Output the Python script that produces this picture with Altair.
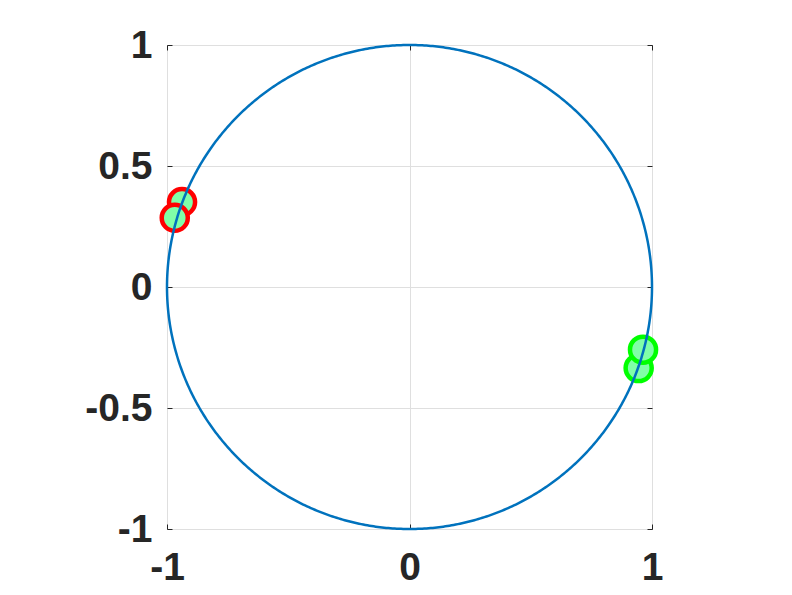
import altair as alt
import numpy as np
import pandas as pd

# Unit circle (geometric reference curve)
theta = np.linspace(0, 2 * np.pi, 721)
circle = pd.DataFrame({"x": np.cos(theta), "y": np.sin(theta), "i": np.arange(len(theta))})

# Points
pt_x = [-0.938, -0.968, 0.945, 0.963]
pt_y = [0.351, 0.286, -0.335, -0.259]
pt_group = ["red", "red", "green", "green"]
pts = pd.DataFrame({"x": pt_x, "y": pt_y, "g": pt_group, "o": [0, 1, 2, 3]})

x_ticks = [-1, 0, 1]
y_ticks = [-1, -0.5, 0, 0.5, 1]

FONT = "Liberation Sans"
TXT = "#262626"
LBL = "(datum.value < 0 ? '-' : '') + abs(datum.value)"

xs = alt.Scale(domain=[-1, 1], nice=False, zero=False)
ys = alt.Scale(domain=[-1, 1], nice=False, zero=False)

x_axis = alt.Axis(values=x_ticks, orient="bottom", grid=True, gridColor="#DFDFDF", gridWidth=1,
                  domain=False, ticks=True, tickSize=5, offset=-5, tickColor=TXT, tickWidth=1,
                  labelFont=FONT, labelFontSize=39, labelFontWeight="bold", labelColor=TXT,
                  labelPadding=19, title=None, labelFlush=False, labelOverlap=False, labelExpr=LBL)
y_axis = alt.Axis(values=y_ticks, orient="left", grid=True, gridColor="#DFDFDF", gridWidth=1,
                  domain=False, ticks=True, tickSize=5, offset=-5, tickColor=TXT, tickWidth=1,
                  labelFont=FONT, labelFontSize=39, labelFontWeight="bold", labelColor=TXT,
                  labelPadding=15, title=None, labelFlush=False, labelOverlap=False, labelExpr=LBL)

markers = alt.Chart(pts).mark_point(shape="circle", filled=False, fill="#80FFA8", fillOpacity=1,
                                     strokeWidth=4.5, size=680, opacity=1).encode(
    x=alt.X("x:Q", scale=xs, axis=x_axis),
    y=alt.Y("y:Q", scale=ys, axis=y_axis),
    stroke=alt.Stroke("g:N", scale=alt.Scale(domain=["red", "green"], range=["#FF0000", "#00FF00"]), legend=None),
    order="o:Q",
)

line = alt.Chart(circle).mark_line(color="#0072BD", strokeWidth=2.5, clip=False).encode(
    x=alt.X("x:Q", scale=xs, axis=alt.Axis(values=x_ticks, orient="top", grid=False, domain=False,
                                          ticks=True, tickSize=5, offset=-5, tickColor=TXT,
                                          labels=False, title=None)),
    y=alt.Y("y:Q", scale=ys, axis=alt.Axis(values=y_ticks, orient="right", grid=False, domain=False,
                                          ticks=True, tickSize=5, offset=-5, tickColor=TXT,
                                          labels=False, title=None)),
    order="i:Q",
)

chart = alt.layer(markers, line).resolve_axis(x="independent", y="independent").properties(
    width=485, height=484,
    autosize=alt.AutoSizeParams(type="none"),
    padding={"left": 159, "top": 37, "right": 120, "bottom": 66},
    background="white",
).configure_view(stroke=TXT, strokeWidth=1)

chart.save("out.html", embed_options={"renderer": "svg", "actions": False})
